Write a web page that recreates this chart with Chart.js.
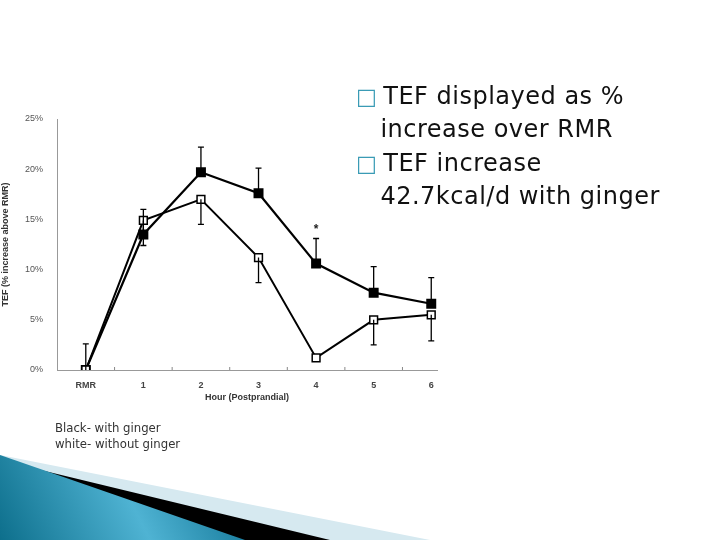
<!DOCTYPE html>
<html><head><meta charset="utf-8">
<script src="https://cdn.jsdelivr.net/npm/chart.js"></script>
<style>
body{margin:0;background:#fff;width:720px;height:540px;overflow:hidden;position:relative;font-family:"DejaVu Sans",sans-serif}
#c{position:absolute;left:0;top:0}
.b{position:absolute;left:356px;font-size:24px;color:#111;line-height:33px;letter-spacing:0.5px}
.b span{color:#3a9bb5;font-size:22px;margin-right:6px}
.note{position:absolute;left:55px;top:420px;font-size:13px;color:#333;line-height:16px;font-family:"DejaVu Sans Condensed","DejaVu Sans",sans-serif}
</style></head><body>
<canvas id="c" width="720" height="540"></canvas>
<div class="b" style="top:80px"><span>□</span>TEF displayed as %<br>&nbsp;&nbsp;&nbsp;increase over RMR</div>
<div class="b" style="top:147px"><span>□</span>TEF increase<br>&nbsp;&nbsp;&nbsp;42.7kcal/d with ginger</div>
<div class="note">Black- with ginger<br>white- without ginger</div>
<script>
const categories=["RMR","1","2","3","4","5","6"];
const withGinger=[0,13.5,19.7,17.6,10.6,7.7,6.6];
const withGingerUpper=[2.6,16.0,22.2,20.1,13.1,10.3,9.2];
const withoutGinger=[0,14.9,17.0,11.2,1.2,5.0,5.5];
const withoutGingerLower=[0,12.4,14.5,8.7,1.2,2.5,2.9];
const yTicks=[0,5,10,15,20,25];

const deco={id:'deco',beforeDraw(ch){const c=ch.ctx;c.save();
 c.fillStyle='#d6e9f0';c.beginPath();c.moveTo(0,455);c.lineTo(430,540);c.lineTo(0,540);c.fill();
 c.fillStyle='#000';c.beginPath();c.moveTo(20,465);c.lineTo(330,540);c.lineTo(0,540);c.fill();
 const g=c.createLinearGradient(0,540,200,440);g.addColorStop(0,'#0d6f8c');g.addColorStop(0.6,'#4fb3d3');g.addColorStop(1,'#1b7fa0');
 c.fillStyle=g;c.beginPath();c.moveTo(0,455);c.lineTo(245,540);c.lineTo(0,540);c.fill();c.restore();}};
const err={id:'err',afterDatasetsDraw(ch){const c=ch.ctx,x=ch.scales.x,y=ch.scales.y;c.save();c.strokeStyle='#000';c.lineWidth=1.3;
 function bar(i,a,b){const px=x.getPixelForValue(i);c.beginPath();c.moveTo(px,y.getPixelForValue(a));c.lineTo(px,y.getPixelForValue(b));
  c.moveTo(px-3,y.getPixelForValue(b));c.lineTo(px+3,y.getPixelForValue(b));c.stroke();}
 for(let i=0;i<7;i++){bar(i,withGinger[i],withGingerUpper[i]);if(i>0&&i!==4)bar(i,withoutGinger[i],withoutGingerLower[i]);}
 c.fillStyle='#222';c.font='bold 12px Arial';c.textAlign='center';c.fillText('*',x.getPixelForValue(4),y.getPixelForValue(13.6));
 c.strokeStyle='#888';c.lineWidth=1;
 for(let i=0;i<6;i++){const px=x.getPixelForValue(i+0.5);c.beginPath();c.moveTo(px,y.bottom);c.lineTo(px,y.bottom-3);c.stroke();}
 c.restore();}};

new Chart(document.getElementById('c'),{type:'line',
 data:{datasets:[
  {data:withoutGinger.map((v,i)=>({x:i,y:v})),borderColor:'#000',borderWidth:2,pointStyle:'rect',pointRadius:5.5,pointBackgroundColor:'#fff',pointBorderColor:'#000',pointBorderWidth:1.5,tension:0},
  {data:withGinger.map((v,i)=>({x:i,y:v})),borderColor:'#000',borderWidth:2.2,pointStyle:'rect',pointRadius:5.5,pointBackgroundColor:'#000',pointBorderColor:'#000',tension:0}
 ]},
 options:{responsive:false,animation:false,events:[],
  layout:{padding:{top:119,right:283,bottom:135,left:0}},
  plugins:{legend:{display:false},tooltip:{enabled:false}},
  scales:{
   x:{type:'linear',min:-0.5,max:6.1,afterFit(s){s.height=35},afterBuildTicks(s){s.ticks=categories.map((_,i)=>({value:i}))},
    ticks:{callback:v=>categories[v]??'',color:'#444',font:{family:'Arial',size:9,weight:'bold'},maxRotation:0,padding:2,autoSkip:false},
    grid:{display:false},border:{color:'#999'},
    title:{display:true,text:'Hour (Postprandial)',color:'#333',font:{family:'Arial',size:9,weight:'bold'},padding:2}},
   y:{min:0,max:25,afterFit(s){s.width=57},afterBuildTicks(s){s.ticks=yTicks.map(v=>({value:v}))},
    ticks:{callback:v=>v+'%',color:'#555',font:{family:'Arial',size:9},padding:6},
    grid:{display:false,drawTicks:true},border:{color:'#999'},
    title:{display:true,text:'TEF (% increase above RMR)',color:'#333',font:{family:'Arial',size:9,weight:'bold'},padding:0}}
  }},
 plugins:[deco,err]});
</script></body></html>
